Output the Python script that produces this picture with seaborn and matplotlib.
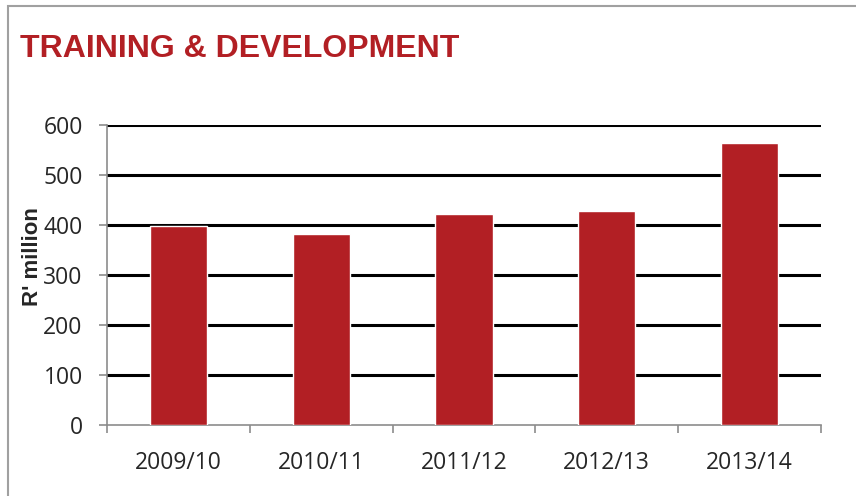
import matplotlib
matplotlib.use('Agg')
import matplotlib.pyplot as plt
import seaborn as sns
import pandas as pd
from matplotlib.patches import Rectangle

# data
years = ['2009/10', '2010/11', '2011/12', '2012/13', '2013/14']
spend = [398, 383, 423, 429, 564]
yticks = [0, 100, 200, 300, 400, 500, 600]

df = pd.DataFrame({'year': years, 'spend': spend})

sns.set_style('white')
plt.rcParams['font.family'] = ['Open Sans', 'DejaVu Sans']

fig = plt.figure(figsize=(8.56, 4.96), dpi=100)
ax = fig.add_axes([0.125, 0.143, 0.834, 0.605])

sns.barplot(data=df, x='year', y='spend', color='#B21F24', saturation=1,
            width=0.4, ax=ax, zorder=3)

ax.set_xlim(-0.5, len(years) - 0.5)
ax.set_ylim(0, 600)
ax.set_yticks(yticks)
ax.set_yticklabels([str(t) for t in yticks], fontsize=16.5)

# category boundaries get the tick marks, labels sit in between
ax.set_xticks([i - 0.5 for i in range(len(years) + 1)])
ax.set_xticklabels([])
ax.set_xticks(range(len(years)), minor=True)
ax.set_xticklabels(years, minor=True, fontsize=16.5)
ax.tick_params(axis='x', which='major', length=6, width=1.2, color='#8c8c8c',
               direction='out', bottom=True)
ax.tick_params(axis='x', which='minor', length=0, pad=19)
ax.tick_params(axis='y', length=5.5, width=1.2, color='#8c8c8c', direction='out',
               left=True, pad=12)

ax.yaxis.grid(True, color='black', linewidth=2.2)
ax.get_ygridlines()[0].set_visible(False)
ax.set_axisbelow(True)

for s in ['top', 'right']:
    ax.spines[s].set_visible(False)
for s in ['left', 'bottom']:
    ax.spines[s].set_color('#8c8c8c')
    ax.spines[s].set_linewidth(1.2)

ax.set_xlabel('')
ax.set_ylabel("R' million", fontsize=16, fontweight='bold',
              family=['Liberation Sans', 'DejaVu Sans'])
ax.yaxis.label.set_verticalalignment('center')
ax.yaxis.set_label_coords(-0.104, 0.563)

fig.text(0.023, 0.885, 'TRAINING & DEVELOPMENT', color='#B21F24', fontsize=23,
         fontweight='bold', family=['Liberation Sans', 'DejaVu Sans'],
         va='baseline', ha='left')

# outer frame, open on the right and bottom edges
fig.patches.append(Rectangle((0.009, -0.1), 1.2, 1.088, transform=fig.transFigure,
                             fill=False, edgecolor='#a0a0a0', linewidth=1.5))

fig.savefig('out.png', dpi=100)
